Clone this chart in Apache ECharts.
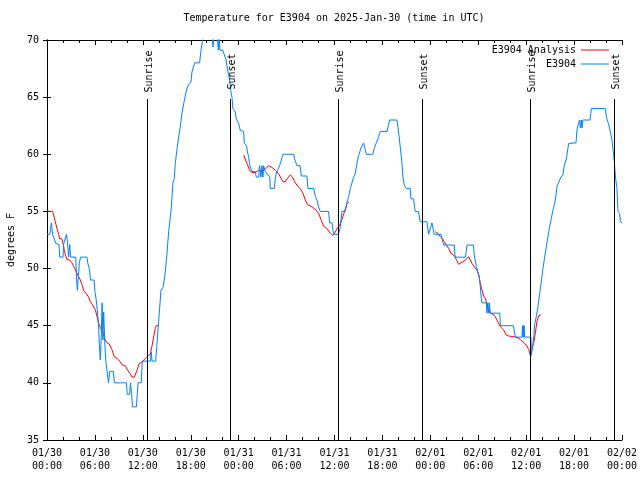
<!DOCTYPE html>
<html><head><meta charset="utf-8">
<script src="https://cdn.jsdelivr.net/npm/echarts@6/dist/echarts.min.js"></script>
<style>html,body{margin:0;padding:0;background:#fff}#c{width:640px;height:480px}</style>
</head><body><div id="c"></div>
<script>
// ---- data (hours since 2025-01-30 00:00 UTC) ----
const titleText = 'Temperature for E3904 on 2025-Jan-30 (time in UTC)';
const yAxisName = 'degrees F';
const xTickLabels = ['01/30\n00:00','01/30\n06:00','01/30\n12:00','01/30\n18:00','01/31\n00:00','01/31\n06:00','01/31\n12:00','01/31\n18:00','02/01\n00:00','02/01\n06:00','02/01\n12:00','02/01\n18:00','02/02\n00:00'];
const seriesNames = ['E3904 Analysis', 'E3904'];

const obsHours = [0,0.35,0.45,0.55,0.7,0.95,1.1,1.5,1.6,2.0,2.1,2.3,2.45,2.6,2.7,2.85,2.95,3.6,3.7,3.8,3.9,4.05,4.2,5.0,5.1,5.3,5.45,5.9,6.0,6.15,6.3,6.45,6.55,6.67,6.78,6.9,7.0,7.1,7.22,7.35,7.6,7.7,7.85,8.3,8.45,9.95,10.05,10.35,10.45,10.6,10.7,11.2,11.3,11.4,11.8,11.93,12.95,13.05,13.15,13.6,13.75,13.98,14.1,14.27,14.5,14.69,14.81,15.02,15.23,15.44,15.57,15.77,15.94,16.06,16.27,16.48,16.69,16.9,17.19,17.53,17.73,18.03,18.15,18.49,19.11,19.28,19.49,19.7,20.6,20.78,20.95,21.3,21.45,21.55,21.65,22.03,22.2,22.41,22.66,22.87,23.0,23.16,23.28,23.58,23.7,24.0,24.2,24.62,24.7,25.0,25.1,25.25,25.37,25.6,25.66,26.08,26.2,26.5,26.62,26.79,26.92,27.04,27.12,27.33,27.9,27.96,28.46,28.6,28.8,29.13,29.3,29.55,30.88,31.0,31.3,31.7,31.84,32.55,32.67,33.4,33.6,33.8,34.0,34.22,35.26,35.39,35.68,35.89,36.5,36.72,36.93,37.35,37.56,37.77,37.98,38.18,38.39,38.6,38.81,39.02,39.23,39.35,39.65,39.85,39.98,40.8,40.98,41.23,41.52,41.73,42.57,42.77,42.9,43.82,44.0,44.24,44.45,44.57,44.74,44.99,45.49,45.57,45.9,46.1,46.5,46.74,47.57,47.78,48.0,48.2,48.4,48.49,49.33,49.67,51.0,51.1,52.4,52.6,53.4,53.5,53.76,53.9,54.13,54.26,54.38,54.46,55.0,55.1,55.2,55.3,55.4,55.5,56.7,56.76,58.4,58.64,59.47,59.55,59.6,59.65,59.7,59.75,59.8,60.6,60.65,60.8,60.95,61.06,61.27,61.48,61.69,61.9,62.1,62.31,62.52,62.73,62.94,63.15,63.35,63.56,63.73,63.86,64.2,64.36,64.6,64.78,65.03,65.2,65.32,66.24,66.36,66.57,66.7,66.78,66.9,67.0,67.1,68.0,68.16,69.9,70.1,70.3,70.5,70.75,70.87,71.04,71.08,71.2,71.37,71.5,71.7,71.8,72.0];
const obsTemps = [53.0,53.0,53.5,54.0,53.0,53.0,52.2,52.1,51.0,51.0,52.2,52.2,53.0,52.0,51.0,52.1,51.0,51.0,49.0,48.1,49.0,50.5,51.0,51.0,50.5,50.0,49.0,49.0,48.0,47.3,46.4,45.1,43.5,42.0,43.75,47.0,43.75,46.2,43.75,42.0,42.0,40.0,41.0,41.0,40.0,40.0,39.0,39.0,40.0,39.0,37.9,37.9,39.0,40.0,40.0,41.9,41.9,42.7,41.9,41.9,43.2,45.4,46.5,48.1,48.3,49.0,49.7,51.3,53.2,54.5,55.4,57.5,57.9,59.2,60.4,61.5,62.4,63.6,64.7,65.8,66.1,66.3,67.2,68.0,68.0,69.1,70.0,71.0,71.0,69.4,70.6,70.6,69.1,70.3,69.1,69.1,68.7,68.3,67.2,66.5,65.6,65.0,64.0,63.7,63.1,62.7,62.1,62.0,61.0,60.7,60.2,59.8,59.06,59.06,58.5,58.5,58.0,58.0,59.0,58.0,59.0,58.0,59.0,58.5,58.0,57.0,57.0,58.0,58.5,59.0,59.4,60.0,60.0,59.6,59.0,59.0,58.1,58.1,57.0,57.0,56.3,56.0,55.4,55.0,55.0,54.0,54.0,53.0,53.0,53.6,55.0,55.0,55.8,56.3,57.0,57.0,58.0,58.3,59.2,59.9,60.0,60.6,61.0,61.0,60.0,60.0,60.5,61.0,61.5,62.0,62.0,62.6,63.0,63.0,62.1,60.6,59.2,58.0,57.3,57.0,57.0,56.1,56.1,55.0,55.0,54.1,54.1,53.0,53.0,54.0,54.0,53.0,53.0,52.06,52.06,51.0,51.0,52.06,52.06,51.2,50.2,49.8,49.3,48.4,47.4,47.0,47.0,46.1,47.0,46.1,47.0,46.1,46.1,45.0,45.0,44.0,44.0,45.0,44.0,45.0,44.0,45.0,44.0,44.0,42.4,42.4,44.0,45.1,45.8,46.7,47.8,48.9,50.0,51.0,51.9,52.8,53.66,54.4,55.1,55.7,56.4,57.2,57.75,58.0,58.2,59.05,59.6,60.4,60.95,61.0,62.1,62.8,63.0,62.3,63.0,62.3,63.0,63.0,64.0,64.0,63.1,62.7,62.1,61.2,60.5,59.4,58.9,57.9,57.0,55.0,54.8,54.1,54.0];

// analysis (null = gap)
const anaHours = [0.0,0.71,0.83,1.04,1.25,1.46,1.58,1.87,2.0,2.17,2.3,2.5,2.83,3.13,3.33,3.67,3.96,4.17,4.38,4.59,4.92,5.21,5.42,5.63,5.84,6.05,6.26,6.47,6.68,6.88,7.09,7.3,7.51,7.8,8.13,8.43,8.76,9.1,9.39,9.8,10.1,10.43,10.64,10.93,11.27,11.56,11.89,12.31,12.6,12.93,13.14,13.35,13.56,13.68,13.98,
  19.0,
  24.62,25.04,25.37,25.66,26.08,26.5,26.9,27.33,27.75,28.17,28.6,29.0,29.3,29.55,29.84,30.13,30.46,30.75,31.0,31.3,31.7,32.05,32.34,32.63,33.2,33.72,34.0,34.3,34.64,35.05,35.47,35.8,36.1,36.4,36.64,36.93,37.22,37.56,37.8,
  43.0,
  48.62,48.91,49.25,49.58,49.75,50.0,50.29,50.58,50.92,51.25,51.54,51.75,52.09,52.38,52.59,52.8,53.0,53.21,53.5,53.84,54.05,54.26,54.47,54.67,54.88,55.09,55.3,55.51,55.84,56.13,56.43,56.76,57.18,57.51,57.8,58.43,58.85,59.26,59.68,60.02,60.31,60.52,60.73,60.93,61.14,61.35,61.56,61.85];
const anaTemps = [55.03,55.0,54.7,54.1,53.5,53.0,52.6,52.6,52.2,51.6,51.2,50.8,50.75,50.5,50.2,49.7,49.3,49.0,48.6,48.1,47.8,47.5,47.1,46.9,46.8,46.4,45.8,45.2,44.86,44.7,44.2,43.75,43.5,43.4,42.9,42.3,42.15,41.9,41.6,41.5,41.1,40.8,40.5,40.5,41.1,41.7,41.8,42.15,42.35,42.5,43.2,44.0,44.77,45.0,45.0,
  null,
  59.93,59.2,58.6,58.4,58.4,58.6,58.5,58.7,59.0,58.85,58.6,58.3,57.9,57.6,57.6,57.9,58.2,58.0,57.6,57.3,57.0,56.6,56.0,55.6,55.4,55.1,54.85,54.3,53.7,53.5,53.1,52.9,53.2,53.6,53.8,54.3,54.9,55.7,55.8,
  null,
  53.23,53.08,52.79,52.56,52.35,52.06,51.77,51.33,51.19,50.81,50.37,50.37,50.6,50.75,50.9,51.04,50.75,50.46,50.17,49.87,49.44,48.71,48.13,47.6,47.4,46.9,46.52,46.08,46.03,45.8,45.36,44.92,44.63,44.19,44.1,44.04,43.98,43.8,43.5,43.3,42.93,42.43,42.43,43.45,44.3,45.36,45.86,45.95];

const sunHours = [12.6, 22.97, 36.51, 47.03, 60.56, 71.08];
const sunNames = ['Sunrise','Sunset','Sunrise','Sunset','Sunrise','Sunset'];

// ---- styling ----
const FONT = '"DejaVu Sans Mono", "Liberation Mono", monospace';
const FS = 10;
const sunLineTop = 64.83;   // where the vertical line stops (y units)
const sunLabelTop = 69.65;  // upper end of the label carrier

const obsData = obsHours.map((h, i) => [h, obsTemps[i]]);
const anaData = anaHours.map((h, i) => [h, anaTemps[i] === null ? '-' : anaTemps[i]]);

const sunMarks = [];
sunHours.forEach((h, i) => {
  sunMarks.push([{coord: [h, 35]}, {coord: [h, sunLineTop]}]);
  sunMarks.push([{coord: [h, sunLineTop], lineStyle: {color: 'rgba(0,0,0,0)', width: 0},
    label: {show: true, position: 'middle', formatter: sunNames[i], color: '#000',
      fontFamily: FONT, fontSize: FS, distance: -6.5}}, {coord: [h, sunLabelTop]}]);
});

const axisCommon = {
  axisLine: {show: true, lineStyle: {color: '#000', width: 1}},
  splitLine: {show: false},
};

const chart = echarts.init(document.getElementById('c'), null, {renderer: 'canvas'});
chart.setOption({
  animation: false,
  backgroundColor: '#fff',
  title: {
    text: titleText, left: 334, top: 13, textAlign: 'center', padding: 0,
    textStyle: {fontFamily: FONT, fontSize: FS, fontWeight: 'normal', color: '#000'}
  },
  legend: [
    {data: [seriesNames[0]], right: 31, top: 45, orient: 'vertical', align: 'right', padding: 0,
     icon: 'rect', itemWidth: 28, itemHeight: 1, textStyle: {fontFamily: FONT, fontSize: FS, color: '#000'}},
    {data: [seriesNames[1]], right: 31, top: 59, orient: 'vertical', align: 'right', padding: 0,
     icon: 'rect', itemWidth: 28, itemHeight: 1, textStyle: {fontFamily: FONT, fontSize: FS, color: '#000'}}
  ],
  grid: {left: 47, right: 18, top: 40, bottom: 40, containLabel: false, outerBoundsMode: 'none'},
  xAxis: [
    Object.assign({}, axisCommon, {
      type: 'value', min: 0, max: 72, interval: 6, position: 'bottom',
      axisTick: {show: true, inside: true, length: 5, lineStyle: {color: '#000'}},
      minorTick: {show: true, splitNumber: 3, length: 3, lineStyle: {color: '#000'}},
      axisLabel: {formatter: v => xTickLabels[Math.round(v / 6)] || '', color: '#000',
        fontFamily: FONT, fontSize: FS, lineHeight: 13, margin: 7}
    }),
    Object.assign({}, axisCommon, {
      type: 'value', min: 0, max: 72, interval: 6, position: 'top',
      axisTick: {show: true, inside: true, length: 5, lineStyle: {color: '#000'}},
      minorTick: {show: true, splitNumber: 3, length: 3, lineStyle: {color: '#000'}},
      axisLabel: {show: false}
    })
  ],
  yAxis: [
    Object.assign({}, axisCommon, {
      type: 'value', min: 35, max: 70, interval: 5, position: 'left',
      name: yAxisName, nameLocation: 'middle', nameRotate: 90, nameGap: 31,
      nameTextStyle: {fontFamily: FONT, fontSize: FS, color: '#000'},
      axisTick: {show: true, inside: true, length: 4, lineStyle: {color: '#000'}},
      axisLabel: {color: '#000', fontFamily: FONT, fontSize: FS, margin: 8}
    }),
    Object.assign({}, axisCommon, {
      type: 'value', min: 35, max: 70, interval: 5, position: 'right',
      axisTick: {show: true, inside: true, length: 4, lineStyle: {color: '#000'}},
      axisLabel: {show: false}
    })
  ],
  series: [
    {
      name: seriesNames[0], type: 'line', data: anaData, showSymbol: false, symbol: 'none',
      connectNulls: false, clip: true, color: '#ff0000',
      lineStyle: {color: '#ff0000', width: 1}, z: 2,
      markLine: {
        silent: true, symbol: ['none', 'none'], animation: false, precision: 4,
        lineStyle: {color: '#000', width: 1, type: 'solid'},
        label: {show: false},
        emphasis: {disabled: true},
        data: sunMarks
      }
    },
    {
      name: seriesNames[1], type: 'line', data: obsData, showSymbol: false, symbol: 'none',
      clip: true, color: '#0080ff',
      lineStyle: {color: '#0080ff', width: 1}, z: 3
    }
  ]
});
</script>
</body></html>
